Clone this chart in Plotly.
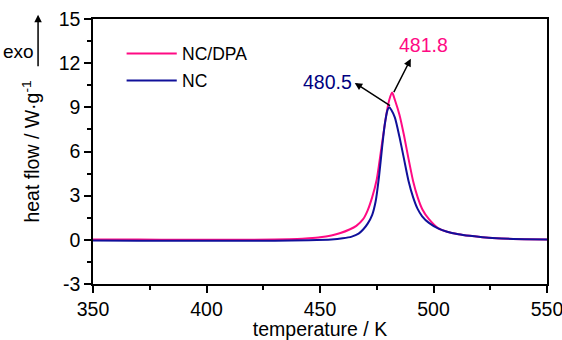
import plotly.graph_objects as go

# ---- data ----
t_dpa = [350, 370, 390, 410, 430, 440, 445, 450, 455, 459, 463, 466, 469, 471, 473, 475, 477, 479,
         480.5, 481.8, 483, 485, 487, 489, 491, 493, 495, 498, 502, 506, 511, 516, 523, 530, 540, 550]
hf_dpa = [0.03, 0.02, 0.0, 0.0, 0.02, 0.05, 0.1, 0.17, 0.3, 0.46, 0.7, 0.95, 1.4, 2.0, 2.9, 4.1, 6.2, 8.3,
          9.5, 10.0, 9.5, 8.5, 7.1, 5.5, 4.0, 2.9, 2.1, 1.4, 0.8, 0.55, 0.38, 0.27, 0.15, 0.09, 0.04, 0.02]

t_nc = [350, 370, 390, 410, 430, 445, 455, 460, 464, 467, 469, 471, 473, 474.5, 476, 477.3, 478.5, 479.7,
        480.5, 481.5, 483, 485, 487, 489, 491, 493, 495, 498, 502, 506, 511, 516, 523, 530, 540, 550]
hf_nc = [-0.05, -0.06, -0.07, -0.07, -0.06, -0.03, 0.02, 0.1, 0.22, 0.42, 0.7, 1.1, 1.7, 2.6, 4.3, 6.2, 7.8, 8.8,
         9.0, 8.8, 8.3, 7.0, 5.5, 4.0, 2.9, 2.1, 1.6, 1.15, 0.78, 0.55, 0.38, 0.27, 0.15, 0.09, 0.04, 0.02]

series_names = ["NC/DPA", "NC"]
peak_labels = ["481.8", "480.5"]
x_ticks = [350, 400, 450, 500, 550]
y_ticks = [-3, 0, 3, 6, 9, 12, 15]
y_ticktext = ["-3", "0", "3", "6", "9", "12", "15"]

PINK = "#FF0A84"
NAVY = "#10109A"
NAVY_TXT = "#000080"
FONT = "Liberation Sans"

fig = go.Figure()
fig.add_trace(go.Scatter(x=t_dpa, y=hf_dpa, mode="lines", name=series_names[0],
                         line=dict(color=PINK, width=2, shape="spline", smoothing=0.6), showlegend=False))
fig.add_trace(go.Scatter(x=t_nc, y=hf_nc, mode="lines", name=series_names[1],
                         line=dict(color=NAVY, width=2, shape="spline", smoothing=0.6), showlegend=False))

axis_common = dict(showgrid=False, zeroline=False, showline=True, linecolor="black", linewidth=1.5,
                   mirror=True, ticks="outside", ticklen=7, tickwidth=1.5, tickcolor="black",
                   automargin=False, ticklabeloverflow="allow",
                   tickfont=dict(family=FONT, size=19.5, color="black"))

fig.update_xaxes(range=[350, 550], tickvals=x_ticks,
                 minor=dict(dtick=25, ticks="outside", ticklen=4, tickwidth=1.5, tickcolor="black"),
                 title=dict(text="temperature / K", font=dict(family=FONT, size=19.5, color="black"), standoff=3),
                 **axis_common)
fig.update_yaxes(range=[-3, 15], tickvals=y_ticks, ticktext=y_ticktext,
                 minor=dict(dtick=1.5, ticks="outside", ticklen=4, tickwidth=1.5, tickcolor="black"),
                 title=dict(text="heat flow / W·g<sup>-1</sup>", font=dict(family=FONT, size=19.5, color="black"), standoff=14),
                 **axis_common)

annotations = []
# peak arrows
annotations.append(dict(x=490.0, y=12.3, ax=482.2, ay=9.93, xref="x", yref="y", axref="x", ayref="y",
                        text="", showarrow=True, arrowhead=2, arrowsize=1, arrowwidth=1.5, arrowcolor="black"))
annotations.append(dict(x=465.3, y=10.66, ax=481.5, ay=9.05, xref="x", yref="y", axref="x", ayref="y",
                        text="", showarrow=True, arrowhead=2, arrowsize=1, arrowwidth=1.5, arrowcolor="black"))
annotations.append(dict(x=495.7, y=13.23, xref="x", yref="y", text=peak_labels[0], showarrow=False,
                        xanchor="center", yanchor="middle",
                        font=dict(family=FONT, size=19.5, color=PINK)))
annotations.append(dict(x=453.2, y=10.71, xref="x", yref="y", text=peak_labels[1], showarrow=False,
                        xanchor="center", yanchor="middle",
                        font=dict(family=FONT, size=19.5, color=NAVY_TXT)))
# legend text
annotations.append(dict(x=388.5, y=12.65, xref="x", yref="y", xanchor="left", yanchor="middle",
                        text=series_names[0], showarrow=False, font=dict(family=FONT, size=17.5, color="black")))
annotations.append(dict(x=388.5, y=10.82, xref="x", yref="y", xanchor="left", yanchor="middle",
                        text=series_names[1], showarrow=False, font=dict(family=FONT, size=17.5, color="black")))
# exo label & arrow
annotations.append(dict(x=-0.164, y=0.876, xref="paper", yref="paper", text="exo", showarrow=False,
                        xanchor="center", yanchor="middle",
                        font=dict(family=FONT, size=19, color="black")))
annotations.append(dict(x=-0.121, y=1.016, xref="paper", yref="paper", ax=0, ay=53, text="",
                        showarrow=True, arrowhead=2, arrowsize=1, arrowwidth=1.5, arrowcolor="black"))

shapes = [
    dict(type="line", xref="x", yref="y", x0=364.8, x1=386.9, y0=12.65, y1=12.65, line=dict(color=PINK, width=2)),
    dict(type="line", xref="x", yref="y", x0=364.8, x1=386.9, y0=10.82, y1=10.82, line=dict(color=NAVY, width=2)),
]

fig.update_layout(width=562, height=340, margin=dict(l=93, r=15, t=19, b=56),
                  paper_bgcolor="white", plot_bgcolor="white",
                  annotations=annotations, shapes=shapes, showlegend=False,
                  font=dict(family=FONT))

fig.write_html("out.html")
